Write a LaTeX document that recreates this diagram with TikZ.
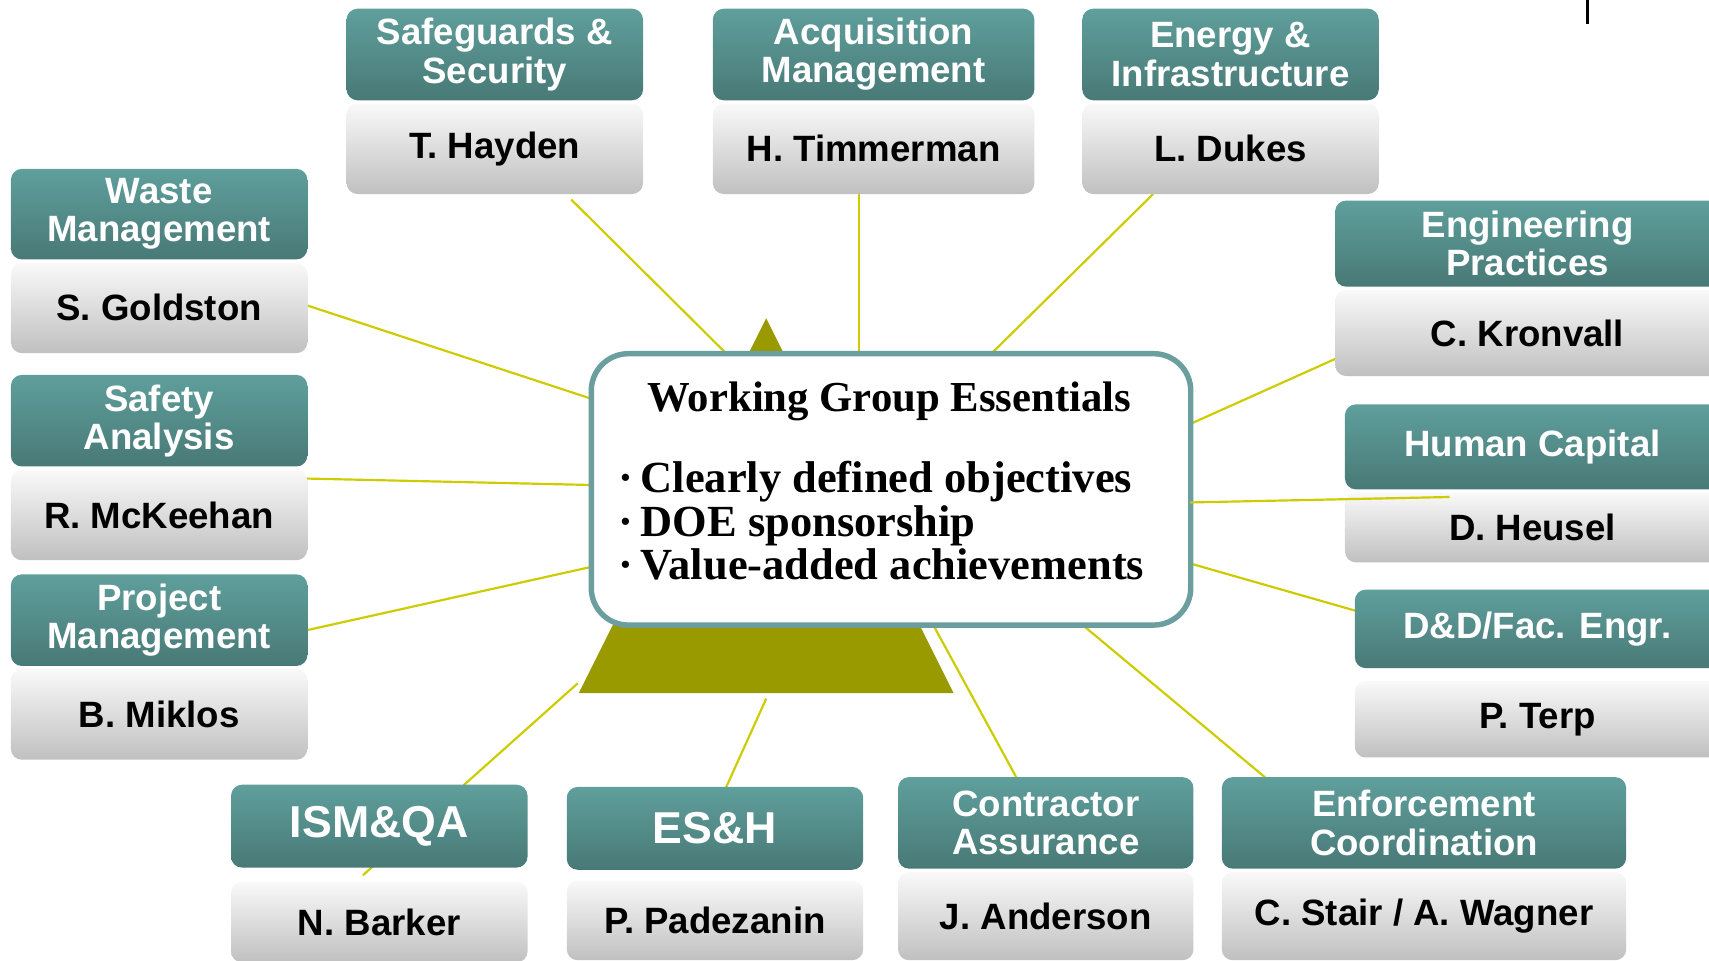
\documentclass[tikz,border=0pt]{standalone}
\usepackage{fontspec}
\setmainfont{Liberation Serif}
\setsansfont{Liberation Sans}
\definecolor{hdrtop}{HTML}{5F9F9C}
\definecolor{hdrbot}{HTML}{487976}
\definecolor{nametop}{HTML}{F9F9F9}
\definecolor{namebot}{HTML}{C0C0C0}
\definecolor{conncol}{HTML}{CCCC00}
\definecolor{tricol}{HTML}{999900}
\definecolor{wgcol}{HTML}{6B9E9E}
\newcommand\hfont{\sffamily\bfseries\fontsize{16.8}{17.5}\selectfont}
\newcommand\bighfont{\sffamily\bfseries\fontsize{20.5}{22}\selectfont}
\newcommand\wgroup[9]{%
  \pgfmathsetmacro\gw{(#3-#2)*0.5}%
  \pgfmathsetmacro\ghh{(#5-#4)*0.5}%
  \pgfmathsetmacro\gnh{(#7-#6)*0.5}%
  \node[hdr, minimum width=\gw pt, minimum height=\ghh pt] (#1h) at ({(#2+#3)/2},{(#4+#5)/2}) {#8};
  \node[namebox, minimum width=\gw pt, minimum height=\gnh pt] (#1n) at ({(#2+#3)/2},{(#6+#7)/2}) {#9};
}
\begin{document}
\begin{tikzpicture}[x=0.5pt,y=-0.5pt,
  hdr/.style={rounded corners=5pt, top color=hdrtop, bottom color=hdrbot, draw=none,
    text=white, font=\hfont, align=center, inner sep=0pt},
  namebox/.style={rounded corners=5pt, top color=nametop, bottom color=namebot, draw=none,
    text=black, font=\hfont, align=center, inner sep=0pt},
  conn/.style={draw=conncol, line width=1pt},
  wgbox/.style={draw=wgcol, line width=2.5pt, fill=white, rounded corners=17pt, inner sep=0pt},
  wgtitle/.style={font=\bfseries\fontsize{19.6}{20}\selectfont, inner sep=0pt},
  wgitem/.style={font=\bfseries\fontsize{20.4}{20}\selectfont, inner sep=0pt}
]
\useasboundingbox (0,0) rectangle (1568,881);
\clip (0,0) rectangle (1568,881);

% connector end points
\coordinate (hayA) at (524,183);  \coordinate (hayB) at (666,324);
\coordinate (timA) at (788,178);  \coordinate (timB) at (788,324);
\coordinate (dukA) at (1058,178); \coordinate (dukB) at (910,324);
\coordinate (golA) at (278,279);  \coordinate (golB) at (543,366);
\coordinate (mckA) at (278,439);  \coordinate (mckB) at (543,445);
\coordinate (prjA) at (278,579);  \coordinate (prjB) at (543,520);
\coordinate (kroA) at (1228,328); \coordinate (kroB) at (1092,389);
\coordinate (dndA) at (1246,561); \coordinate (dndB) at (1092,517);
\coordinate (enfA) at (1164,716); \coordinate (enfB) at (994,574);
\coordinate (conA) at (934,716);  \coordinate (conB) at (856,573);
\coordinate (eshA) at (665,725);  \coordinate (eshB) at (703,641);
\coordinate (ismA) at (333,803);  \coordinate (ismB) at (530,627);
\coordinate (humA) at (1330,456); \coordinate (humB) at (1092,461);

\draw[conn] (hayA) -- (hayB);
\draw[conn] (timA) -- (timB);
\draw[conn] (dukA) -- (dukB);
\draw[conn] (golA) -- (golB);
\draw[conn] (mckA) -- (mckB);
\draw[conn] (prjA) -- (prjB);
\draw[conn] (kroA) -- (kroB);
\draw[conn] (dndA) -- (dndB);
\draw[conn] (enfA) -- (enfB);
\draw[conn] (conA) -- (conB);
\draw[conn] (eshA) -- (eshB);
\draw[conn] (ismA) -- (ismB);

% triangle
\fill[tricol] (703,292) -- (875,636) -- (531,636) -- cycle;

% central box
\node[wgbox, minimum width=275pt, minimum height=124.5pt] (wg) at (817.5,449) {};
\node[wgtitle, anchor=base] (wgt) at (816,378) {Working Group Essentials};
\node[wgitem, anchor=base west] (wgi1) at (567,452) {·\,Clearly defined objectives};
\node[wgitem, anchor=base west] (wgi2) at (567,492) {·\,DOE sponsorship};
\node[wgitem, anchor=base west] (wgi3) at (567,532) {·\,Value-added achievements};

% groups
\wgroup{saf}{318}{590}{8}{92}{95}{178}{Safeguards \&\\Security}{T. Hayden}
\wgroup{acq}{654}{949}{8}{92}{95}{178}{Acquisition\\Management}{H. Timmerman}
\wgroup{ene}{993}{1265}{8}{92}{95}{178}{Energy \&\\Infrastructure}{L. Dukes}
\wgroup{was}{10}{282}{155}{238}{241}{324}{Waste\\Management}{S. Goldston}
\wgroup{sfa}{10}{282}{344}{428}{431}{514}{Safety\\Analysis}{R. McKeehan}
\wgroup{prj}{10}{282}{527}{611}{614}{697}{Project\\Management}{B. Miklos}
\wgroup{eng}{1225}{1578}{184}{263}{266}{345}{Engineering\\Practices}{C. Kronvall}
\wgroup{hum}{1234}{1578}{371}{449}{452}{516}{Human Capital}{D. Heusel}
\wgroup{dnd}{1243}{1578}{541}{613}{625}{695}{D\&D/Fac. Engr.}{P. Terp}
\wgroup{ism}{212}{484}{720}{796}{809}{883}{\bighfont ISM\&QA}{N. Barker}
\wgroup{esh}{520}{792}{722}{798}{808}{881}{\bighfont ES\&H}{P. Padezanin}
\wgroup{con}{824}{1095}{713}{797}{800}{881}{Contractor\\Assurance}{J. Anderson}
\wgroup{enf}{1121}{1492}{713}{797}{800}{881}{Enforcement\\Coordination}{C. Stair / A. Wagner}

\draw[conn] (humA) -- (humB);

% small black mark at top right
\coordinate (markA) at (1456.5,0);
\coordinate (markB) at (1456.5,22);
\draw[line width=1pt, black] (markA) -- (markB);
\end{tikzpicture}
\end{document}
